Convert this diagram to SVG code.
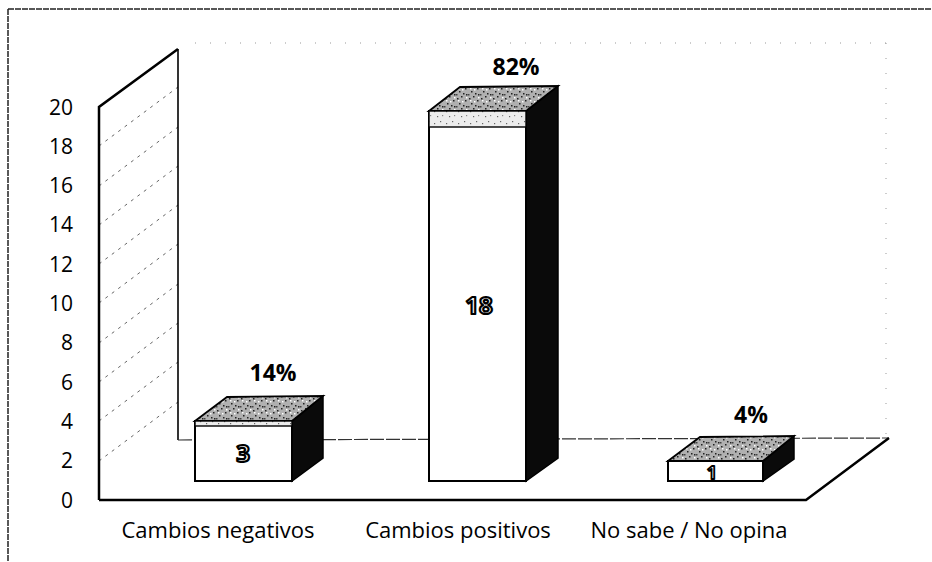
<svg xmlns="http://www.w3.org/2000/svg" width="932" height="562" viewBox="0 0 932 562">
<style>
  .ax { font-family: "Open Sans", "Liberation Sans", sans-serif; font-size: 21px; fill: #000; }
  .cat { font-family: "Open Sans", "Liberation Sans", sans-serif; font-size: 22px; fill: #000; text-anchor: middle; }
  .pct { font-family: "Open Sans", "Liberation Sans", sans-serif; font-size: 23px; font-weight: bold; fill: #000; text-anchor: middle; }
  .val { font-family: "Open Sans", "Liberation Sans", sans-serif; font-size: 24px; font-weight: bold; fill: #fff; stroke: #000; stroke-width: 2.2px; stroke-linejoin: round; text-anchor: middle; }
  .edge { stroke: #000; stroke-width: 2.5; fill: none; }
  .thin { stroke: #000; stroke-width: 1.6; fill: none; }
  .grid { stroke: #666; stroke-width: 1; stroke-dasharray: 3 5; fill: none; }
  .faint { stroke: #999; stroke-width: 1; stroke-dasharray: 1 14; fill: none; }
  .front { fill: #fff; stroke: #000; stroke-width: 2; }
  .side { fill: #0a0a0a; stroke: #000; stroke-width: 1.5; }
  .top { fill: url(#speckDark); stroke: #000; stroke-width: 1.8; }
  .strip { fill: url(#speckLight); stroke: #000; stroke-width: 1.4; }
</style>
<defs>
  <pattern id="speckDark" width="12" height="12" patternUnits="userSpaceOnUse">
    <rect width="12" height="12" fill="#b0b0b0"/>
    <rect x="1" y="2" width="1.5" height="1.5" fill="#222"/>
    <rect x="5" y="0" width="1.5" height="1.5" fill="#222"/>
    <rect x="9" y="4" width="1.5" height="1.5" fill="#222"/>
    <rect x="3" y="7" width="1.5" height="1.5" fill="#222"/>
    <rect x="7" y="9" width="1.5" height="1.5" fill="#222"/>
    <rect x="10" y="10" width="1.5" height="1.5" fill="#222"/>
    <rect x="0" y="10" width="1.5" height="1.5" fill="#444"/>
    <rect x="6" y="5" width="1.5" height="1.5" fill="#fff"/>
    <rect x="2" y="4" width="1.5" height="1.5" fill="#fff"/>
    <rect x="10" y="1" width="1.5" height="1.5" fill="#fff"/>
  </pattern>
  <pattern id="speckLight" width="12" height="12" patternUnits="userSpaceOnUse">
    <rect width="12" height="12" fill="#ececec"/>
    <rect x="2" y="3" width="1.2" height="1.2" fill="#666"/>
    <rect x="8" y="1" width="1.2" height="1.2" fill="#666"/>
    <rect x="5" y="8" width="1.2" height="1.2" fill="#666"/>
    <rect x="10" y="7" width="1.2" height="1.2" fill="#888"/>
  </pattern>
</defs>

<g id="frame">
  <line x1="8" y1="9" x2="932" y2="9" stroke="#222" stroke-width="1.5" stroke-dasharray="6 1"/>
  <line x1="8" y1="9" x2="8" y2="562" stroke="#222" stroke-width="1.5" stroke-dasharray="6 1"/>
</g>

<g id="walls">
  <line class="faint" x1="195" y1="43" x2="888" y2="43"/>
  <line class="faint" x1="886" y1="43" x2="886" y2="436"/>
  <line class="grid" x1="99" y1="461" x2="178" y2="402"/>
  <line class="grid" x1="99" y1="421" x2="178" y2="362"/>
  <line class="grid" x1="99" y1="382" x2="178" y2="323"/>
  <line class="grid" x1="99" y1="343" x2="178" y2="284"/>
  <line class="grid" x1="99" y1="303" x2="178" y2="244"/>
  <line class="grid" x1="99" y1="264" x2="178" y2="205"/>
  <line class="grid" x1="99" y1="225" x2="178" y2="166"/>
  <line class="grid" x1="99" y1="186" x2="178" y2="127"/>
  <line class="grid" x1="99" y1="146" x2="178" y2="87"/>
  <polyline class="edge" points="99,500 99,107 178,49"/>
  <line class="thin" x1="178" y1="49" x2="178" y2="440"/>
  <line x1="178" y1="440" x2="889" y2="438" stroke="#333" stroke-width="1.2" stroke-dasharray="14 2"/>
  <polyline class="edge" points="99,500 806,500 889,438"/>
</g>

<g id="y-axis">
  <text class="ax" x="73" y="508" text-anchor="end">0</text>
  <text class="ax" x="73" y="468" text-anchor="end">2</text>
  <text class="ax" x="73" y="429" text-anchor="end">4</text>
  <text class="ax" x="73" y="390" text-anchor="end">6</text>
  <text class="ax" x="73" y="350" text-anchor="end">8</text>
  <text class="ax" x="73" y="311" text-anchor="end">10</text>
  <text class="ax" x="73" y="272" text-anchor="end">12</text>
  <text class="ax" x="73" y="232" text-anchor="end">14</text>
  <text class="ax" x="73" y="193" text-anchor="end">16</text>
  <text class="ax" x="73" y="154" text-anchor="end">18</text>
  <text class="ax" x="73" y="115" text-anchor="end">20</text>
</g>

<g id="bar-negativos">
  <polygon class="side" points="292,421 323,396 323,458 292,481"/>
  <polygon class="top" points="195,421 227,397 323,396 292,421"/>
  <rect class="front" x="195" y="421" width="97" height="60"/>
  <rect class="strip" x="195" y="421" width="97" height="5"/>
  <text class="val" x="243" y="462">3</text>
  <text class="pct" x="273" y="381">14%</text>
</g>

<g id="bar-positivos">
  <polygon class="side" points="526,111 558,86 558,458 526,481"/>
  <polygon class="top" points="429,111 460,87 558,86 526,111"/>
  <rect class="front" x="429" y="111" width="97" height="370"/>
  <rect class="strip" x="429" y="111" width="97" height="16"/>
  <text class="val" x="479" y="314">18</text>
  <text class="pct" x="516" y="75">82%</text>
</g>

<g id="bar-nosabe">
  <polygon class="side" points="763,461 794,436 794,459 763,481"/>
  <polygon class="top" points="668,461 700,437 794,436 763,461"/>
  <rect class="front" x="668" y="461" width="95" height="20"/>
  <text class="val" x="712" y="479" style="font-size:18px;stroke-width:1.8px">1</text>
  <text class="pct" x="751" y="423">4%</text>
</g>

<g id="x-axis">
  <text class="cat" x="218" y="538">Cambios negativos</text>
  <text class="cat" x="458" y="538">Cambios positivos</text>
  <text class="cat" x="689" y="538">No sabe / No opina</text>
</g>
</svg>
